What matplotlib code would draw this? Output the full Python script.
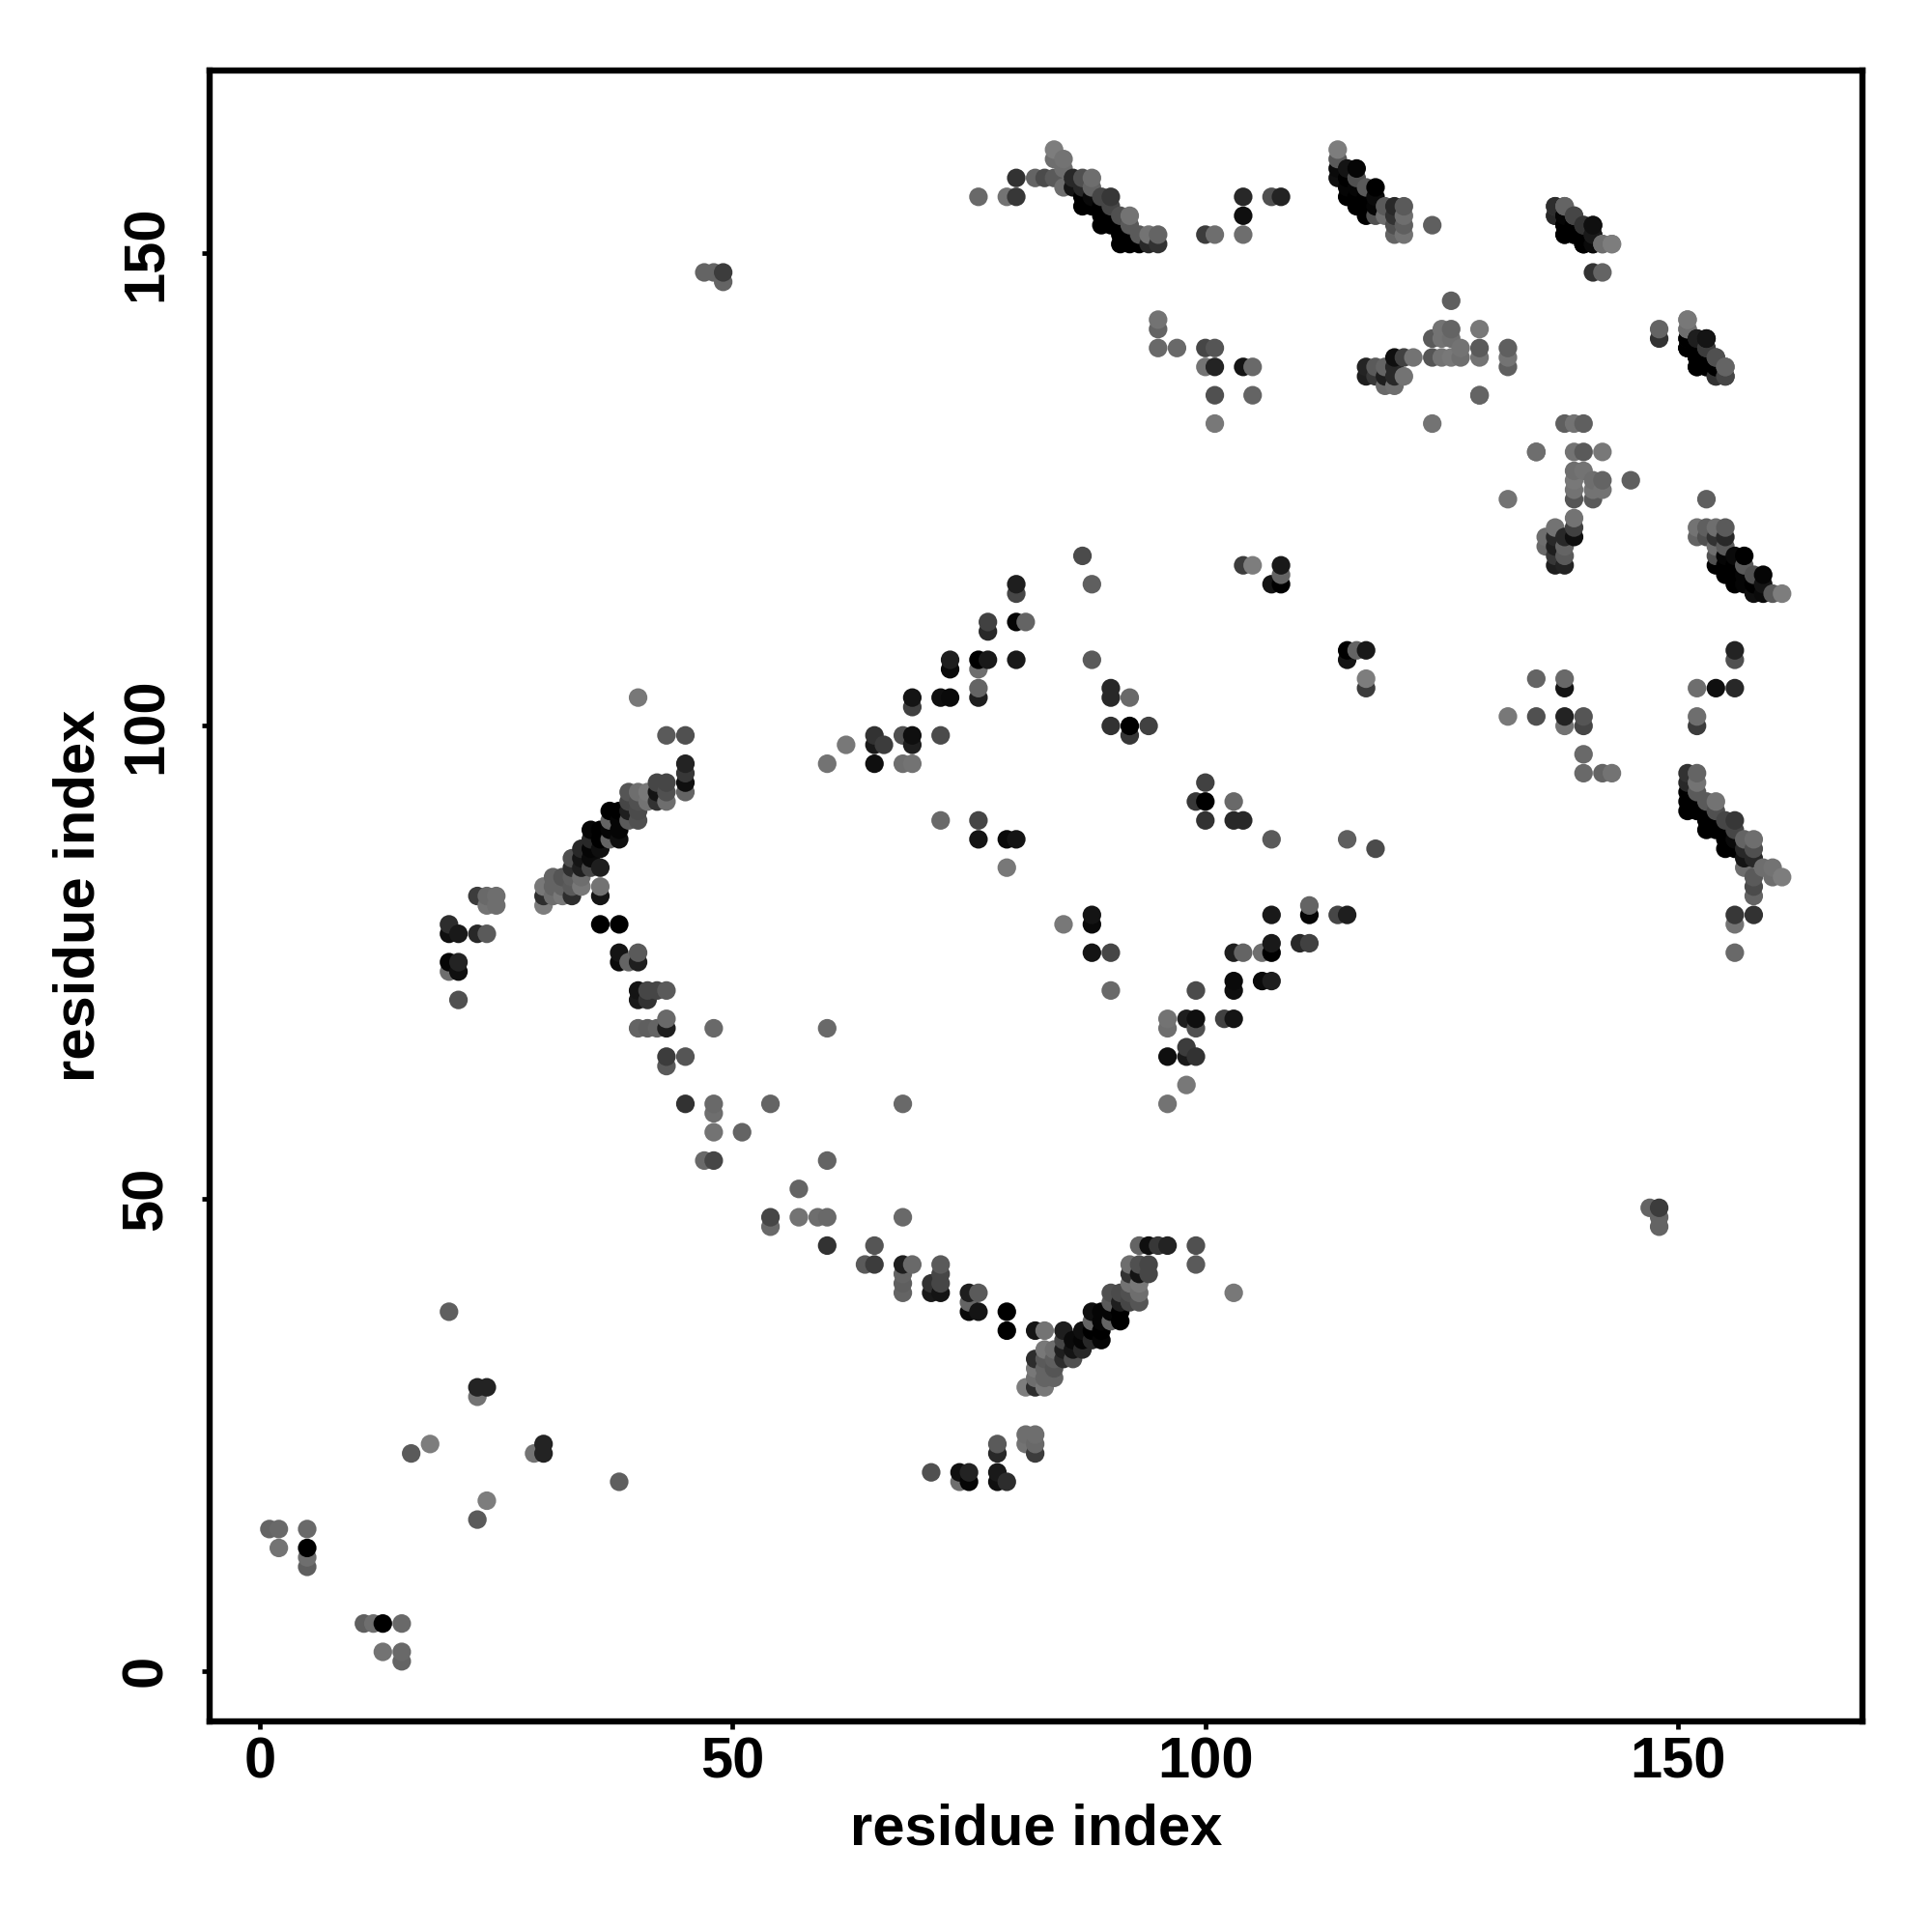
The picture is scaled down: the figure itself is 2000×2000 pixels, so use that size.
import numpy as np
import matplotlib
matplotlib.use("Agg")
import matplotlib.pyplot as plt

contact_i = [
 1,2,5,2,5,5,5,
 20,23,24,23,16,18,
 20,21,20,21,21,20,21,23,24,20,24,25,23,24,25,
 30,30,31,32,33,36,30,31,32,33,34,36,31,32,33,34,33,34,35,36,33,34,35,34,35,36,
 35,36,37,38,35,36,37,38,37,38,39,40,37,38,39,40,39,40,41,42,43,39,40,41,42,43,45,
 42,43,45,45,45,43,45,40,
 36,38,38,38,40,39,40,40,40,41,41,42,43,43,40,41,42,43,43,45,43,45,48,48,48,51,54,48,60,47,48,
 47,48,49,49,
 60,62,65,65,66,65,68,69,68,69,69,72,
 69,69,72,73,76,76,73,73,76,77,76,77,77,80,80,80,80,81,79,72,76,76,79,80,
 87,88,88,90,90,92,90,92,92,94,
 104,105,108,108,108,107,
 76,79,80,80,82,83,84,84,84,85,85,
 86,87,88,85,86,87,88,87,88,89,90,87,88,89,90,89,90,91,92,89,90,91,92,91,92,93,94,95,91,92,93,94,95,
 100,101,104,104,104,107,108,124,
 114,114,114,114,115,116,115,116,115,116,117,118,115,116,117,118,116,117,118,119,120,121,117,118,119,120,121,120,121,120,121,
 95,95,95,97,100,101,100,101,104,105,101,105,101,
 117,117,118,118,119,119,119,120,120,120,120,121,121,122,
 124,124,125,125,125,126,126,126,126,127,127,129,129,129,129,124,132,132,132,135,
 137,138,137,138,139,138,139,140,141,138,139,140,141,140,141,142,143,141,142,
 151,151,151,151,152,153,151,152,153,152,153,154,152,153,154,155,154,155,
 47,48,49,49,
][:-4]
contact_j = [
 15,15,15,13,13,12,11,
 38,30,30,29,23,24,
 74,74,75,75,71,78,78,78,78,79,81,81,82,82,82,
 81,82,82,82,82,82,83,83,83,83,83,83,84,84,84,84,85,85,85,85,86,86,86,87,87,87,
 88,88,88,88,89,89,89,89,90,90,90,90,91,91,91,91,92,92,92,92,92,93,93,93,93,93,93,
 94,94,94,95,96,99,99,103,
 79,79,76,75,76,75,75,72,71,71,72,72,72,69,68,68,68,68,65,65,64,60,60,59,57,57,60,68,68,54,54,
 148,148,148,147,
 96,98,99,98,98,96,96,96,99,99,98,99,
 103,102,103,103,104,103,107,106,107,107,106,111,110,115,114,111,107,111,85,90,90,88,88,88,
 118,115,107,104,103,103,100,100,99,100,
 117,117,117,116,115,115,
 156,156,156,158,158,158,158,161,160,160,159,
 158,158,158,157,157,157,157,156,156,156,156,155,155,155,155,154,154,154,154,153,153,153,153,152,152,152,152,152,151,151,151,151,151,
 152,152,152,154,156,156,156,153,
 161,160,159,158,159,159,158,158,157,157,157,157,156,156,156,156,155,155,155,155,155,155,154,154,154,154,154,153,153,152,152,
 143,142,140,140,140,140,138,138,138,138,135,135,132,
 138,137,138,137,138,137,136,139,138,137,136,139,137,139,
 139,141,139,141,142,139,141,142,145,139,140,142,140,139,135,132,140,139,138,129,
 155,155,154,154,154,153,153,153,153,152,152,152,152,151,151,151,151,148,148,
 143,142,141,140,141,141,140,140,140,139,139,139,138,138,138,138,137,137,
 148,148,148,147,
][:-4]
shade = [
 100,105,105,115,0,110,95,
 95,35,35,115,90,125,
 110,15,5,35,80,15,25,40,90,45,115,110,60,105,110,
 125,45,110,120,45,20,120,100,100,90,120,115,100,85,95,110,45,30,70,30,80,20,10,40,5,15,
 40,0,100,15,5,0,5,5,100,5,90,80,0,0,30,75,70,80,115,50,110,85,110,120,20,80,100,
 70,70,15,55,35,90,80,120,
 0,0,20,10,90,100,30,20,25,50,70,70,90,105,100,95,100,30,60,85,90,50,105,110,115,100,100,105,105,105,70,
 100,100,60,100,
 115,120,50,25,60,15,110,115,80,15,30,75,
 20,65,15,10,100,30,30,10,0,25,110,65,40,30,70,5,25,100,120,105,70,20,10,20,
 75,95,90,40,40,105,50,0,55,65,
 60,125,25,100,0,20,
 105,115,55,50,100,75,90,125,110,115,110,
 40,80,110,110,20,40,100,0,10,70,55,0,0,0,70,0,0,80,115,0,0,0,90,0,0,90,115,100,0,0,0,40,50,
 60,110,110,15,40,80,35,95,
 125,90,10,15,20,5,0,80,5,5,90,0,0,0,0,10,0,0,5,90,40,90,0,80,110,50,110,80,95,100,115,
 115,100,105,105,70,85,115,35,20,105,80,100,120,
 35,30,90,55,100,30,105,15,40,40,110,65,115,115,
 85,90,115,115,115,120,110,100,95,110,115,120,90,115,110,115,95,115,95,100,
 70,100,50,0,80,0,0,60,20,0,0,0,30,0,0,110,120,50,100,
 125,110,10,5,25,15,0,0,50,0,0,70,0,0,5,100,40,45,
 100,100,60,100,
][:-4]

if not (len(contact_i) == len(contact_j) == len(shade)):
    print("length mismatch", len(contact_i), len(contact_j), len(shade))

ci = np.array(contact_i)
cj = np.array(contact_j)
sh = np.array(shade)
x = np.concatenate([ci, cj])
y = np.concatenate([cj, ci])
g = np.concatenate([sh, sh]) / 255.0
order = np.lexsort((y, x))

plt.rcParams['font.family'] = ['Liberation Sans', 'DejaVu Sans']
fig = plt.figure(figsize=(10, 10), dpi=200)
ax = fig.add_axes([217 / 2000, 1 - 1782 / 2000, (1927.5 - 217) / 2000, (1782 - 72.7) / 2000])
ax.scatter(x[order], y[order], s=48, c=np.repeat(g[order][:, None], 3, axis=1), linewidths=0)
ax.set_xlim(-5.32, 169.45)
ax.set_ylim(-5.36, 169.4)
for s in ax.spines.values():
    s.set_linewidth(2.3)
ax.set_xticks([0, 50, 100, 150])
ax.set_yticks([0, 50, 100, 150])
ax.tick_params(axis='x', length=3, width=1.7, labelsize=21.5, pad=2.7)
ax.tick_params(axis='y', length=3, width=1.7, labelsize=21.5, pad=10.5)
for t in ax.get_xticklabels():
    t.set_fontweight('bold')
for t in ax.get_yticklabels():
    t.set_fontweight('bold')
    t.set_rotation(90)
    t.set_va('center')
ax.set_xlabel('residue index', fontsize=21.5, fontweight='bold', labelpad=5)
ax.set_ylabel('residue index', fontsize=21.5, fontweight='bold', labelpad=5.5)
fig.savefig('out.png', dpi=200)
